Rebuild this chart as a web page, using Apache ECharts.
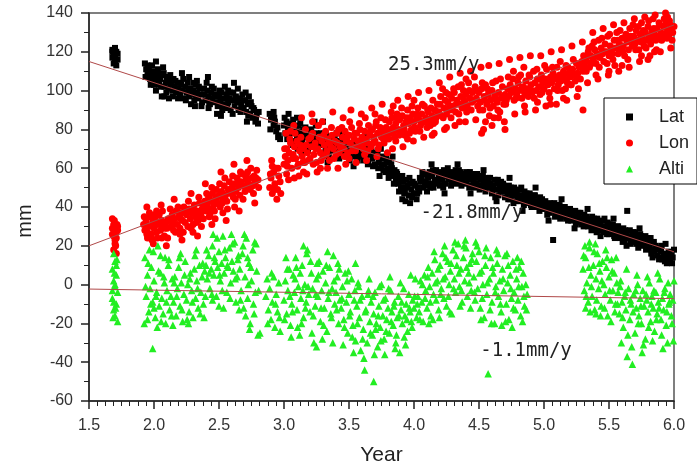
<!DOCTYPE html>
<html>
<head>
<meta charset="utf-8">
<script src="https://cdn.jsdelivr.net/npm/echarts@6/dist/echarts.min.js"></script>
<style>
  html, body { margin: 0; padding: 0; background: #fff; }
  #chart { width: 697px; height: 471px; }
</style>
</head>
<body>
<div id="chart"></div>
<script>
// GPS station displacement time series (mm) against year

const seriesNames = ['Lat', 'Lon', 'Alti'];

// Latitude component [year, mm]
const latData = [
  [1.68,121],[1.69,119],[1.70,122],[1.71,120],[1.68,117],[1.70,118],[1.72,116],[1.69,114],[1.71,113],[1.70,115],[1.72,119],[1.68,120],
  [1.93,114],[1.94,111],[1.95,108],[1.96,112],[1.97,106],[1.98,109],[1.99,104],[2.00,110],[2.01,107],[2.02,105],[2.03,109],[2.04,103],
  [2.05,106],[2.06,108],[2.07,112],[2.08,102],[2.06,97],[2.08,97],[2.09,104],[2.10,107],[2.11,101],[1.95,113],[2.00,103],[2.03,111],
  [2.12,105],[2.13,103],[2.14,100],[2.15,106],[2.16,102],[2.17,99],[2.18,104],[2.19,101],[2.20,98],[2.21,103],[2.22,100],[2.23,96],
  [2.24,102],[2.25,99],[2.26,104],[2.27,97],[2.28,101],[2.29,98],[2.30,100],[2.31,95],[2.32,103],[2.33,99],[2.34,96],[2.35,101],
  [2.36,98],[2.37,94],[2.27,107],[2.33,105],
  [2.39,98],[2.40,95],[2.41,100],[2.42,97],[2.43,93],[2.44,99],[2.45,96],[2.46,101],[2.47,94],[2.48,98],[2.49,92],[2.50,97],
  [2.51,95],[2.52,99],[2.53,93],[2.54,96],[2.55,91],[2.56,98],[2.57,94],[2.58,96],[2.59,90],[2.60,95],[2.61,99],[2.62,92],
  [2.63,97],[2.64,94],[2.65,90],[2.42,91],[2.57,100],
  [2.66,96],[2.67,93],[2.68,98],[2.69,91],[2.70,95],[2.71,89],[2.72,93],[2.73,97],[2.74,88],[2.75,92],[2.76,86],[2.77,90],
  [2.78,84],[2.79,88],[2.80,83],
  [2.89,88],[2.90,85],[2.91,87],[2.92,82],[2.93,84],[2.94,79],[2.95,81],[2.96,77],[2.97,75],[2.92,89],
  [3.00,82],[3.01,78],[3.02,84],[3.03,80],[3.04,76],[3.05,81],[3.06,78],[3.07,85],[3.08,74],[3.09,79],[3.10,77],[3.11,82],
  [3.12,75],[3.13,79],[3.14,73],[3.15,80],[3.16,76],[3.17,78],[3.18,72],[3.19,77],[3.20,74],[3.21,79],[3.22,71],[3.23,76],
  [3.24,73],[3.25,78],[3.26,70],[3.27,75],[3.28,72],[3.10,86],
  [3.29,76],[3.30,73],[3.31,78],[3.32,70],[3.33,74],[3.34,71],[3.35,76],[3.36,69],[3.37,73],[3.38,70],[3.39,75],[3.40,68],
  [3.41,72],[3.42,74],[3.43,69],[3.44,71],[3.45,67],[3.46,72],[3.47,70],[3.48,74],[3.49,66],[3.50,71],[3.51,68],[3.52,73],
  [3.53,69],[3.54,66],[3.55,71],[3.56,68],[3.30,84],[3.45,78],
  [3.57,70],[3.58,66],[3.59,72],[3.60,68],[3.61,64],[3.62,69],[3.63,66],[3.64,71],[3.65,63],[3.66,67],[3.67,70],[3.68,65],
  [3.69,68],[3.70,62],[3.71,66],[3.72,69],[3.73,63],[3.74,66],[3.75,61],[3.76,65],[3.77,62],[3.78,58],[3.79,64],[3.80,60],
  [3.81,63],[3.82,57],
  [3.83,60],[3.84,56],[3.85,59],[3.86,54],[3.87,57],[3.88,52],[3.89,55],[3.90,50],[3.91,56],[3.92,53],[3.93,48],[3.94,54],
  [3.95,51],[3.96,46],[3.97,52],[3.98,49],[3.99,53],[4.00,47],[4.01,51],[4.02,44],[4.03,50],[4.04,48],[4.05,53],[3.91,44],[3.97,42],
  [4.06,55],[4.07,50],[4.08,57],[4.09,53],[4.10,48],[4.11,55],[4.12,58],[4.13,52],[4.14,56],[4.15,50],[4.16,54],[4.17,59],
  [4.18,53],[4.19,56],[4.20,51],[4.21,57],[4.22,54],[4.23,59],[4.24,52],[4.25,56],[4.26,60],[4.27,54],[4.28,57],[4.29,53],
  [4.30,58],[4.31,55],[4.32,59],[4.33,52],[4.34,56],[4.35,54],[4.36,58],[4.37,53],[4.38,57],[4.39,55],[4.40,52],[4.41,56],
  [4.42,54],[4.43,58],[4.44,51],[4.45,55],[4.46,53],[4.47,57],[4.48,52],[4.49,55],[4.50,51],
  [4.51,54],[4.52,50],[4.53,56],[4.54,52],[4.55,48],[4.56,53],[4.57,55],[4.58,50],[4.59,52],[4.60,47],[4.61,51],[4.62,54],
  [4.63,49],[4.64,52],[4.65,46],[4.66,50],[4.67,53],[4.68,48],[4.69,51],[4.70,45],[4.71,49],[4.72,47],[4.73,51],[4.74,44],
  [4.75,48],[4.76,46],[4.77,50],[4.78,43],[4.79,47],[4.80,45],[4.81,49],[4.82,43],[4.83,46],[4.84,44],[4.85,48],[4.86,42],
  [4.87,45],[4.88,43],[4.89,47],[4.90,41],[4.91,44],[4.92,42],[4.93,46],[4.94,40],[4.95,43],[4.96,41],[4.97,45],[4.98,39],
  [4.99,42],[5.00,40],
  [5.01,43],[5.02,39],[5.03,41],[5.04,37],[5.05,40],[5.06,38],[5.07,23],[5.08,42],[5.09,36],[5.10,39],[5.11,37],[5.12,41],
  [5.13,35],[5.14,38],[5.15,36],[5.16,40],[5.17,34],[5.18,37],[5.19,35],[5.20,39],[5.21,33],[5.22,36],[5.23,34],[5.24,38],
  [5.25,32],[5.26,35],[5.27,33],[5.28,37],[5.29,31],[5.30,34],
  [5.31,36],[5.32,32],[5.33,34],[5.34,30],[5.35,33],[5.36,31],[5.37,35],[5.38,29],[5.39,32],[5.40,30],[5.41,34],[5.42,28],
  [5.43,31],[5.44,29],[5.45,33],[5.46,27],[5.47,30],[5.48,28],[5.49,32],[5.50,26],[5.51,29],[5.52,27],[5.53,31],[5.54,25],
  [5.55,28],[5.56,26],[5.57,30],[5.58,24],[5.59,27],[5.60,25],[5.61,29],[5.62,23],[5.63,26],[5.64,38],[5.65,24],[5.66,28],
  [5.67,22],[5.68,25],[5.69,23],[5.70,27],[5.71,21],[5.72,24],[5.73,22],[5.74,26],[5.75,20],[5.76,23],[5.77,21],[5.78,25],
  [5.79,19],[5.80,22],[5.81,20],[5.82,24],[5.83,18],[5.84,21],[5.85,17],[5.86,20],[5.87,15],[5.88,18],[5.89,14],[5.90,17],
  [5.91,13],[5.92,16],[5.93,12],[5.94,15],[5.95,13],[5.96,17],[5.97,12],[5.98,15],[5.99,14],[6.00,18],
  [1.935,107],[1.955,110],[1.975,103],[1.985,113],[2.015,100],[2.035,106],[2.055,102],[2.075,109],[2.095,99],[2.125,108],
  [2.145,97],[2.165,105],[2.185,96],[2.205,104],[2.225,106],[2.245,95],[2.265,100],[2.285,93],[2.305,104],[2.325,97],
  [2.345,102],[2.365,92],[2.385,101],[2.405,104],[2.425,94],[2.445,102],[2.465,97],[2.485,88],[2.505,100],[2.525,90],
  [2.545,102],[2.565,92],[2.585,99],[2.605,88],[2.625,96],[2.645,101],[2.665,89],[2.685,95],[2.705,99],[2.725,87],
  [2.745,94],[2.765,91],[2.785,86],[2.805,89],
  [2.895,80],[2.925,86],[2.955,76],[3.005,86],[3.025,75],[3.045,83],[3.065,72],[3.085,81],[3.105,70],[3.125,83],
  [3.145,76],[3.165,81],[3.185,69],[3.205,80],[3.225,74],[3.245,82],[3.265,73],[3.285,78],[3.305,68],[3.325,77],
  [3.345,66],[3.365,75],[3.385,72],[3.405,78],[3.425,65],[3.445,75],[3.465,68],[3.485,72],[3.505,64],[3.525,70],
  [3.545,74],[3.565,64],[3.585,72],[3.605,67],[3.625,73],[3.645,62],[3.665,70],[3.685,61],[3.705,67],[3.725,60],
  [3.745,70],[3.765,59],[3.785,66],[3.805,55],[3.825,62],[3.845,52],[3.865,58],[3.885,48],[3.905,53],[3.925,47],
  [3.945,50],[3.965,55],[3.985,45],[4.005,52],[4.025,47],[4.045,55],
  [4.065,58],[4.085,51],[4.105,56],[4.125,50],[4.145,59],[4.165,52],[4.185,58],[4.205,54],[4.225,50],[4.245,58],
  [4.265,55],[4.285,51],[4.305,56],[4.325,53],[4.345,59],[4.365,51],[4.385,55],[4.405,58],[4.425,50],[4.445,56],
  [4.465,50],[4.485,57],[4.505,49],[4.525,54],[4.545,50],[4.565,51],[4.585,55],[4.605,49],[4.625,45],[4.645,54],
  [4.665,48],[4.685,52],[4.705,50],[4.725,44],[4.745,50],[4.765,42],[4.785,48],[4.805,46],[4.825,50],[4.845,41],
  [4.865,47],[4.885,45],[4.905,40],[4.925,46],[4.945,43],[4.965,38],[4.985,44],[5.005,42],[5.025,36],[5.045,42],
  [5.065,39],[5.085,35],[5.105,41],[5.125,34],[5.145,40],[5.165,37],[5.185,33],[5.205,38],[5.225,35],[5.245,31],
  [5.265,37],[5.285,34],[5.305,30],[5.325,35],[5.345,32],[5.365,28],[5.385,34],[5.405,27],[5.425,32],[5.445,30],
  [5.465,34],[5.485,26],[5.505,31],[5.525,29],[5.545,24],[5.565,30],[5.585,28],[5.605,22],[5.625,28],[5.645,25],
  [5.665,21],[5.685,27],[5.705,24],[5.725,19],[5.745,25],[5.765,22],[5.785,18],[5.805,24],[5.825,16],[5.845,22],
  [5.865,19],[5.885,13],[5.905,20],[5.925,15],[5.945,11],[5.965,16],[5.985,11],
  [2.015,115],[2.115,96],[2.215,109],[2.315,92],[2.415,107],[2.515,87],[2.615,104],[2.715,84],[3.035,88],[3.135,68],
  [3.235,84],[3.335,63],[3.435,80],[3.535,61],[3.635,76],[3.735,56],[3.835,66],[3.935,43],[4.135,62],[4.235,47],
  [4.335,62],[4.435,47],[4.535,59],[4.635,43],[4.735,55],[4.835,38],[4.935,50],[5.035,33],[5.135,44],[5.235,29],
  [5.335,39],[5.435,25],[5.535,34],[5.635,20],[5.735,29],[5.835,14],[5.935,21]
];

// Longitude component [year, mm]
const lonData = [
  [1.68,34],[1.69,31],[1.70,29],[1.71,27],[1.69,25],[1.70,23],[1.72,28],[1.68,26],[1.71,24],[1.70,21],[1.69,18],[1.71,16],[1.72,30],[1.68,29],
  [1.92,31],[1.93,28],[1.94,33],[1.95,27],[1.96,30],[1.97,35],[1.98,26],[1.99,32],[2.00,29],[2.01,34],[2.02,27],[2.03,31],
  [2.04,36],[2.05,28],[2.06,33],[2.07,30],[2.08,25],[2.09,32],[2.10,29],[2.11,34],[1.95,24],[2.02,38],[2.06,24],
  [2.12,33],[2.13,30],[2.14,36],[2.15,28],[2.16,34],[2.17,38],[2.18,31],[2.19,35],[2.20,29],[2.21,37],[2.22,33],[2.23,40],
  [2.24,32],[2.25,36],[2.26,30],[2.27,39],[2.28,34],[2.29,37],[2.30,31],[2.31,41],[2.32,35],[2.33,38],[2.34,33],[2.35,42],
  [2.36,36],[2.37,39],[2.38,34],[2.39,43],[2.20,26],[2.30,27],
  [2.40,38],[2.41,41],[2.42,45],[2.43,39],[2.44,43],[2.45,47],[2.46,41],[2.47,44],[2.48,49],[2.49,42],[2.50,46],[2.51,40],
  [2.52,48],[2.53,44],[2.54,51],[2.55,46],[2.56,43],[2.57,49],[2.58,53],[2.59,47],[2.60,50],[2.61,45],[2.62,52],[2.63,48],
  [2.64,55],[2.65,50],[2.66,46],[2.67,53],[2.68,57],[2.69,51],[2.70,48],[2.71,54],[2.72,58],[2.73,52],[2.74,49],[2.75,55],
  [2.76,51],[2.77,56],[2.78,53],[2.79,59],[2.80,54],[2.43,36],[2.47,34],[2.53,37],[2.62,40],
  [2.89,50],[2.90,55],[2.91,47],[2.92,58],[2.93,52],[2.94,60],[2.95,49],[2.96,56],[2.97,53],[2.91,61],
  [3.00,62],[3.01,66],[3.02,70],[3.03,64],[3.04,68],[3.05,73],[3.06,60],[3.07,67],[3.08,71],[3.09,65],[3.10,74],[3.11,62],
  [3.12,69],[3.13,76],[3.14,66],[3.15,70],[3.16,63],[3.17,72],[3.18,68],[3.19,75],[3.20,65],[3.21,71],[3.22,78],[3.23,67],
  [3.24,73],[3.25,63],[3.26,70],[3.27,76],[3.28,68],[3.29,74],[3.30,66],[3.31,72],[3.32,79],[3.33,69],[3.34,75],[3.35,64],
  [3.36,71],[3.37,77],[3.38,70],[3.39,74],[3.40,67],[3.41,73],[3.42,80],[3.43,71],[3.02,57],[3.08,55],[3.15,58],[3.22,84],
  [3.05,79],[3.28,60],
  [3.44,72],[3.45,76],[3.46,70],[3.47,79],[3.48,74],[3.49,68],[3.50,77],[3.51,73],[3.52,81],[3.53,71],[3.54,75],[3.55,69],
  [3.56,78],[3.57,74],[3.58,83],[3.59,72],[3.60,76],[3.61,70],[3.62,79],[3.63,75],[3.64,73],[3.65,82],[3.66,77],[3.67,71],
  [3.68,80],[3.69,76],[3.70,74],[3.71,84],[3.72,78],[3.73,72],[3.74,81],[3.75,76],[3.76,79],[3.77,73],[3.78,85],[3.79,77],
  [3.50,65],[3.62,67],[3.70,88],
  [3.80,80],[3.81,84],[3.82,78],[3.83,86],[3.84,81],[3.85,76],[3.86,83],[3.87,88],[3.88,80],[3.89,85],[3.90,79],[3.91,87],
  [3.92,82],[3.93,77],[3.94,84],[3.95,90],[3.96,83],[3.97,86],[3.98,80],[3.99,88],[4.00,84],[4.01,79],[4.02,86],[4.03,91],
  [4.04,85],[4.05,82],[4.06,88],[4.07,84],[4.08,92],[4.09,86],[4.10,81],[4.11,89],[4.12,85],[4.13,91],[4.14,87],[4.15,83],
  [4.16,90],[4.17,86],[4.18,93],[3.86,74],[3.95,75],[4.00,95],[3.84,92],[4.14,77],
  [4.19,89],[4.20,93],[4.21,87],[4.22,101],[4.23,91],[4.24,95],[4.25,88],[4.26,94],[4.27,98],[4.28,90],[4.29,96],[4.30,92],
  [4.31,99],[4.32,89],[4.33,95],[4.34,102],[4.35,93],[4.36,97],[4.37,91],[4.38,100],[4.39,94],[4.40,98],[4.41,92],[4.42,104],
  [4.43,96],[4.44,90],[4.45,99],[4.46,95],[4.47,102],[4.25,81],[4.35,84],[4.40,106],
  [4.48,96],[4.49,92],[4.50,99],[4.51,94],[4.52,101],[4.53,90],[4.54,97],[4.55,103],[4.56,93],[4.57,98],[4.58,87],[4.59,95],
  [4.60,100],[4.61,92],[4.62,97],[4.63,105],[4.64,94],[4.65,99],[4.66,89],[4.67,96],[4.68,102],[4.69,93],[4.70,98],[4.71,95],
  [4.72,101],[4.55,84],[4.60,82],[4.65,86],[4.70,80],[4.52,78],
  [4.73,97],[4.74,103],[4.75,99],[4.76,106],[4.77,95],[4.78,101],[4.79,98],[4.80,104],[4.81,100],[4.82,108],[4.83,96],[4.84,102],
  [4.85,99],[4.86,105],[4.87,101],[4.88,97],[4.89,107],[4.90,103],[4.91,99],[4.92,110],[4.93,104],[4.94,100],[4.95,106],[4.96,102],
  [4.97,98],[4.98,108],[4.99,104],[5.00,101],[5.01,106],[5.02,111],[5.03,103],[5.04,99],[5.05,107],[5.06,104],[5.07,109],[5.08,101],
  [5.09,106],[5.10,112],[5.11,103],[5.12,108],[5.13,105],[5.14,100],[5.15,110],[5.16,106],[5.17,113],[5.18,104],[5.19,109],[5.20,107],
  [5.21,103],[5.22,111],[5.23,108],[5.24,105],[5.25,114],[5.26,109],[5.27,112],[5.28,106],[5.29,115],[5.30,110],[5.31,113],[5.32,117],
  [4.85,92],[4.95,94],[5.05,93],[5.15,96],[5.30,90],
  [5.33,115],[5.34,120],[5.35,112],[5.36,118],[5.37,123],[5.38,116],[5.39,121],[5.40,114],[5.41,119],[5.42,126],[5.43,117],[5.44,122],
  [5.45,119],[5.46,115],[5.47,124],[5.48,120],[5.49,128],[5.50,118],[5.51,123],[5.52,121],[5.53,116],[5.54,126],[5.55,122],[5.56,130],
  [5.57,119],[5.58,124],[5.59,121],[5.60,127],[5.61,123],[5.62,118],[5.63,129],[5.64,125],[5.65,121],[5.66,132],[5.67,126],[5.68,123],
  [5.40,108],[5.50,110],[5.60,113],
  [5.69,128],[5.70,124],[5.71,131],[5.72,126],[5.73,121],[5.74,129],[5.75,135],[5.76,127],[5.77,123],[5.78,130],[5.79,126],[5.80,133],
  [5.81,128],[5.82,124],[5.83,131],[5.84,137],[5.85,129],[5.86,126],[5.87,132],[5.88,128],[5.89,134],[5.90,130],[5.91,127],[5.92,133],
  [5.93,129],[5.94,135],[5.95,131],[5.96,128],[5.97,134],[5.98,132],[5.99,130],[6.00,133],[5.75,118],[5.80,116],[5.85,120],[5.95,138],
  [1.695,33],[1.705,20],[1.715,31],
  [1.925,35],[1.945,26],[1.965,37],[1.985,23],[2.005,36],[2.025,24],[2.045,32],[2.065,38],[2.085,29],[2.105,24],[2.125,39],
  [2.145,31],[2.165,27],[2.185,40],[2.205,34],[2.225,27],[2.245,37],[2.265,43],[2.285,29],[2.305,38],[2.325,32],[2.345,45],
  [2.365,30],[2.385,40],
  [2.405,47],[2.425,35],[2.445,50],[2.465,38],[2.485,45],[2.505,52],[2.525,42],[2.545,55],[2.565,39],[2.585,48],[2.605,56],
  [2.625,44],[2.645,52],[2.665,58],[2.685,44],[2.705,56],[2.725,50],[2.745,60],[2.765,47],[2.785,55],[2.805,50],
  [2.895,57],[2.925,49],[2.955,60],[2.975,47],
  [3.005,70],[3.025,61],[3.045,75],[3.065,65],[3.085,78],[3.105,61],[3.125,72],[3.145,63],[3.165,80],[3.185,64],[3.205,76],
  [3.225,62],[3.245,70],[3.265,82],[3.285,64],[3.305,77],[3.325,67],[3.345,73],[3.365,81],[3.385,65],[3.405,78],[3.425,68],
  [3.445,81],[3.465,66],[3.485,76],[3.505,84],[3.525,69],[3.545,78],[3.565,71],[3.585,80],[3.605,73],[3.625,86],[3.645,69],
  [3.665,79],[3.685,73],[3.705,82],[3.725,70],[3.745,86],[3.765,75],[3.785,81],
  [3.805,75],[3.825,89],[3.845,79],[3.865,86],[3.885,77],[3.905,91],[3.925,80],[3.945,86],[3.965,78],[3.985,92],[4.005,81],
  [4.025,88],[4.045,79],[4.065,93],[4.085,84],[4.105,90],[4.125,82],[4.145,95],[4.165,84],[4.185,89],[4.205,97],[4.225,86],
  [4.245,99],[4.265,91],[4.285,86],[4.305,101],[4.325,93],[4.345,88],[4.365,103],[4.385,95],[4.405,89],[4.425,100],[4.445,94],
  [4.465,107],
  [4.485,100],[4.505,90],[4.525,104],[4.545,95],[4.565,101],[4.585,91],[4.605,104],[4.625,96],[4.645,90],[4.665,106],[4.685,97],
  [4.705,93],[4.725,107],
  [4.745,100],[4.765,110],[4.785,96],[4.805,107],[4.825,101],[4.845,112],[4.865,98],[4.885,108],[4.905,100],[4.925,96],[4.945,111],
  [4.965,106],[4.985,99],[5.005,113],[5.025,104],[5.045,96],[5.065,112],[5.085,107],[5.105,100],[5.125,115],[5.145,108],[5.165,101],
  [5.185,112],[5.205,103],[5.225,116],[5.245,108],[5.265,101],[5.285,113],[5.305,118],
  [5.325,110],[5.345,122],[5.365,114],[5.385,125],[5.405,118],[5.425,112],[5.445,127],[5.465,120],[5.485,114],[5.505,129],[5.525,119],
  [5.545,113],[5.565,126],[5.585,131],[5.605,120],[5.625,127],[5.645,116],[5.665,128],[5.685,134],
  [5.705,121],[5.725,133],[5.745,125],[5.765,131],[5.785,122],[5.805,136],[5.825,127],[5.845,132],[5.865,121],[5.885,135],[5.905,126],
  [5.925,137],[5.945,127],[5.965,136],[5.985,126],
  [1.945,40],[1.995,21],[2.055,41],[2.095,20],[2.155,44],[2.215,23],[2.285,47],[2.335,25],[2.395,52],[2.445,31],[2.515,58],
  [2.555,33],[2.615,62],[2.655,38],[2.715,64],[2.775,42],[2.905,64],[2.945,44],
  [3.015,78],[3.035,54],[3.075,82],[3.115,56],[3.135,86],[3.175,57],[3.215,88],[3.255,58],[3.295,84],[3.335,60],[3.375,89],
  [3.415,60],[3.455,86],[3.475,62],[3.515,90],[3.555,63],[3.595,88],[3.635,64],[3.675,91],[3.715,66],[3.755,93],[3.795,68],
  [3.835,70],[3.875,95],[3.915,71],[3.955,97],[3.995,74],[4.035,99],[4.075,76],[4.115,100],[4.155,78],[4.195,104],[4.235,80],
  [4.275,107],[4.315,82],[4.355,109],[4.395,84],[4.435,110],[4.475,85],[4.515,112],[4.535,80],[4.575,113],[4.615,86],[4.655,114],
  [4.695,84],[4.735,116],
  [4.775,88],[4.815,117],[4.855,89],[4.895,118],[4.935,90],[4.975,118],[5.015,92],[5.055,120],[5.095,93],[5.135,121],[5.175,95],
  [5.215,123],[5.255,97],[5.295,125],[5.335,104],[5.375,130],[5.415,106],[5.455,132],[5.495,108],[5.535,134],[5.575,110],
  [5.615,135],[5.655,112],[5.695,137],[5.735,115],[5.775,138],[5.815,118],[5.855,139],[5.895,120],[5.935,140],[5.975,122]
];

// Altitude component [year, mm]
const altData = [
  [1.69,16],[1.70,12],[1.68,8],[1.71,5],[1.69,2],[1.70,-1],[1.72,-4],[1.68,-7],[1.71,-10],[1.69,-13],[1.70,-16],[1.72,-19],
  [1.68,-3],[1.71,10],[1.70,0],[1.69,-9],
  [1.93,14],[1.94,-6],[1.95,5],[1.96,-14],[1.97,-2],[1.98,9],[1.99,-33],[1.99,-9],[2.00,2],[2.01,-17],[2.02,-4],[2.03,20],
  [2.04,-11],[2.05,6],[2.06,-7],[2.07,-15],[2.08,1],[2.09,-20],[2.10,-3],[2.11,10],[2.12,-13],[2.13,-6],[2.14,3],[1.95,-18],
  [2.05,15],[2.00,-12],
  [2.15,-9],[2.16,4],[2.17,-16],[2.18,-2],[2.19,9],[2.20,-11],[2.21,1],[2.22,-19],[2.23,-5],[2.24,12],[2.25,-8],[2.26,0],
  [2.27,-14],[2.28,6],[2.29,-3],[2.30,-17],[2.31,8],[2.32,-7],[2.33,2],[2.34,-12],[2.35,10],[2.36,-4],[2.37,4],[2.38,-10],[2.39,7],
  [2.40,10],[2.41,3],[2.42,15],[2.43,-2],[2.44,8],[2.45,20],[2.46,5],[2.47,12],[2.48,-6],[2.49,9],[2.50,17],[2.51,2],
  [2.52,11],[2.53,25],[2.54,6],[2.55,14],[2.56,-4],[2.57,9],[2.58,19],[2.59,1],[2.60,12],[2.61,7],[2.62,22],[2.63,-9],
  [2.64,4],[2.65,15],[2.50,-11],[2.45,-8],
  [2.66,8],[2.67,-3],[2.68,16],[2.69,-12],[2.70,4],[2.71,24],[2.72,-7],[2.73,11],[2.74,-20],[2.75,2],[2.76,18],[2.77,-15],
  [2.78,-4],[2.79,7],[2.80,-26],[2.72,14],
  [2.86,-6],[2.87,3],[2.88,-13],[2.89,-2],[2.90,-18],[2.91,-9],[2.92,4],[2.93,-22],[2.94,-5],[2.95,-14],[2.96,1],[2.97,-24],
  [3.00,-8],[3.01,2],[3.02,-15],[3.03,-3],[3.04,8],[3.05,-21],[3.06,-10],[3.07,5],[3.08,-4],[3.09,14],[3.10,-13],[3.11,-1],
  [3.12,-26],[3.13,-7],[3.14,10],[3.15,-17],[3.16,0],[3.17,-9],[3.18,18],[3.19,-5],[3.20,-14],[3.21,6],[3.22,-2],[3.23,-30],
  [3.24,-11],[3.25,3],[3.26,-6],[3.27,12],[3.28,-19],[3.29,-3],[3.30,7],[3.31,-12],[3.32,1],[3.33,-24],[3.34,-7],[3.35,9],
  [3.36,-15],[3.37,-2],[3.38,15],[3.39,-10],[3.40,-4],[3.41,4],[3.42,-20],[3.43,-8],[3.15,20],[3.25,-32],
  [3.44,-12],[3.45,-1],[3.46,-18],[3.47,6],[3.48,-9],[3.49,-25],[3.50,-5],[3.51,-14],[3.52,3],[3.53,-21],[3.54,-8],[3.55,-29],
  [3.56,-11],[3.57,1],[3.58,-17],[3.59,-34],[3.60,-6],[3.61,-23],[3.62,-44],[3.63,-13],[3.64,-30],[3.65,-3],[3.66,-19],[3.69,-50],[3.55,11],
  [3.67,-9],[3.68,-26],[3.69,-15],[3.70,-4],[3.71,-20],[3.72,-32],[3.73,-11],[3.74,-22],[3.75,0],[3.76,-16],[3.77,-28],[3.78,-7],
  [3.79,-18],[3.80,-12],[3.81,-25],[3.82,-3],[3.83,-14],[3.84,-21],[3.85,-9],[3.86,-30],[3.87,-17],[3.88,-6],[3.89,-35],[3.90,-13],
  [3.91,-20],[3.92,-2],[3.93,-16],[3.94,-10],[3.95,-24],[3.96,-5],[3.97,-14],[3.98,-19],[3.99,-8],[4.00,-12],[4.01,3],[4.02,-17],
  [4.03,-6],[4.04,-14],[4.05,2],[4.06,-9],[4.07,-19],[4.08,5],[4.09,-3],[4.10,-12],[4.11,9],[4.12,-1],[4.13,-16],[4.14,6],
  [4.15,-5],[4.16,13],[4.17,-8],[4.18,2],[4.19,-13],[4.20,10],[4.21,-2],[4.22,16],[4.23,-7],[4.24,4],[4.25,-11],[4.26,12],
  [4.27,0],[4.28,7],[4.29,-15],[4.30,18],[4.31,3],[4.32,-4],[4.33,10],[4.34,21],[4.35,-1],[4.36,8],[4.37,-9],[4.38,14],
  [4.39,2],[4.40,19],[4.41,-6],[4.42,6],[4.43,11],[4.44,-3],[4.45,16],
  [4.46,4],[4.47,-8],[4.48,12],[4.49,-2],[4.50,17],[4.51,-12],[4.52,7],[4.53,0],[4.54,-17],[4.55,10],[4.56,-5],[4.57,-46],
  [4.58,3],[4.59,14],[4.60,-9],[4.61,6],[4.62,-20],[4.63,-1],[4.64,11],[4.65,-6],[4.66,2],[4.67,-14],[4.68,8],[4.69,-3],
  [4.70,15],[4.71,-10],[4.72,1],[4.73,-18],[4.74,5],[4.75,-7],[4.76,12],[4.77,-4],[4.78,-13],[4.79,3],[4.80,-8],[4.81,9],
  [4.82,-16],[4.83,-1],[4.84,6],[4.85,-11],[4.86,0],[4.87,-5],
  [5.30,8],[5.31,-3],[5.32,14],[5.33,1],[5.34,-9],[5.35,19],[5.36,5],[5.37,-6],[5.38,10],[5.39,-13],[5.40,3],[5.41,16],
  [5.42,-2],[5.43,7],[5.44,-11],[5.45,12],[5.46,0],[5.47,-5],[5.48,9],[5.49,-16],[5.50,4],[5.51,-8],[5.52,13],[5.53,-3],
  [5.54,6],[5.55,-10],[5.56,1],[5.35,22],[5.32,-12],[5.40,-15],
  [5.57,-4],[5.58,-15],[5.59,2],[5.60,-9],[5.61,-22],[5.62,-6],[5.63,-13],[5.64,-37],[5.65,-2],[5.66,-18],[5.67,-10],[5.68,-41],
  [5.69,-5],[5.70,-25],[5.71,-12],[5.72,0],[5.73,-16],[5.74,-7],[5.75,-20],[5.76,-3],[5.77,-11],[5.78,-28],[5.79,-8],[5.80,-14],
  [5.81,1],[5.82,-19],[5.83,-6],[5.84,-12],[5.85,-24],[5.86,-4],[5.87,-15],[5.88,-9],[5.89,3],[5.90,-18],[5.91,-7],[5.92,-13],
  [5.93,-2],[5.94,-21],[5.95,-30],[5.96,-10],[5.97,-5],[5.98,-16],[5.99,-8],[6.00,2],
  [1.695,6],[1.705,-12],[1.715,13],[1.685,-17],
  [1.935,-1],[1.955,11],[1.975,-10],[1.995,17],[2.015,-6],[2.035,7],[2.055,-19],[2.075,4],[2.095,-9],[2.115,13],[2.135,-16],
  [2.155,1],[2.175,-6],[2.195,14],[2.215,-13],[2.235,5],[2.255,-18],[2.275,3],[2.295,-9],[2.315,15],[2.335,-2],[2.355,-15],
  [2.375,11],[2.395,-6],
  [2.405,18],[2.425,6],[2.445,-5],[2.465,14],[2.485,24],[2.505,5],[2.525,-3],[2.545,18],[2.565,10],[2.585,-7],[2.605,21],
  [2.625,3],[2.645,13],
  [2.665,-8],[2.685,20],[2.705,-16],[2.725,0],[2.745,9],[2.765,-10],[2.785,21],[2.805,-3],
  [2.875,-20],[2.905,6],[2.935,-10],[2.965,-17],
  [3.005,-18],[3.025,8],[3.045,-6],[3.065,-14],[3.085,3],[3.105,-22],[3.125,6],[3.145,-3],[3.165,-12],[3.185,-1],[3.205,12],
  [3.225,-16],[3.245,-5],[3.265,5],[3.285,-12],[3.305,-21],[3.325,10],[3.345,-4],[3.365,-17],[3.385,2],[3.405,-13],[3.425,8],
  [3.445,-7],[3.465,-22],[3.485,2],[3.505,-16],[3.525,-27],[3.545,-3],[3.565,-20],[3.585,-8],[3.605,-28],[3.625,-14],
  [3.645,-5],[3.665,-25],
  [3.685,-6],[3.705,-23],[3.725,-16],[3.745,-29],[3.765,-8],[3.785,-24],[3.805,-2],[3.825,-19],[3.845,-11],[3.865,-26],
  [3.885,-16],[3.905,-9],[3.925,-27],[3.945,-18],[3.965,-12],[3.985,-22],[4.005,-6],
  [4.025,-10],[4.045,-18],[4.065,0],[4.085,-7],[4.105,4],[4.125,-9],[4.145,-18],[4.165,1],[4.185,8],[4.205,-5],[4.225,3],
  [4.245,14],[4.265,-6],[4.285,11],[4.305,-2],[4.325,15],[4.345,6],[4.365,-3],[4.385,20],[4.405,9],[4.425,1],[4.445,13],
  [4.465,-4],[4.485,20],[4.505,6],[4.525,-7],[4.545,15],[4.565,1],[4.585,-13],[4.605,9],[4.625,-4],[4.645,16],[4.665,-10],
  [4.685,3],[4.705,-19],[4.725,10],[4.745,-2],[4.765,-12],[4.785,8],[4.805,-1],[4.825,12],[4.845,-6],[4.865,-13],
  [5.305,15],[5.325,-6],[5.345,9],[5.365,-1],[5.385,17],[5.405,-8],[5.425,11],[5.445,2],[5.465,-12],[5.485,14],[5.505,-3],
  [5.525,7],[5.545,-14],
  [5.565,-10],[5.585,-1],[5.605,-17],[5.625,-4],[5.645,-26],[5.665,-8],[5.685,-14],[5.705,-3],[5.725,-20],[5.745,-11],
  [5.765,-31],[5.785,-5],[5.805,-22],[5.825,-10],[5.845,-3],[5.865,-18],[5.885,-12],[5.905,-26],[5.925,-4],[5.945,-14],
  [5.965,-9],[5.985,-20],
  [3.015,14],[3.055,-27],[3.095,9],[3.135,-20],[3.175,16],[3.215,-25],[3.255,11],[3.295,-28],[3.335,17],[3.375,-30],
  [3.415,11],[3.455,-31],[3.495,7],[3.535,-35],[3.575,-1],[3.615,-38],[3.655,3],[3.695,-36],[3.735,-1],[3.775,-36],
  [3.815,4],[3.855,-33],[3.895,1],[3.935,-31],[3.975,5],
  [4.115,-20],[4.155,17],[4.195,-17],[4.235,20],[4.275,-14],[4.315,22],[4.355,-11],[4.395,23],[4.435,-12],[4.475,22],
  [4.515,-18],[4.555,19],[4.595,-20],[4.635,18],[4.675,-21],[4.715,16],[4.755,-22],[4.795,14],[4.835,-19],
  [5.315,20],[5.355,-14],[5.395,21],[5.435,-16],[5.475,18],[5.515,-19],[5.555,14],[5.595,-30],[5.635,8],[5.675,-32],
  [5.715,5],[5.755,-35],[5.795,4],[5.835,-29],[5.875,6],[5.915,-33],[5.955,1],[5.995,-29],
  [1.925,-20],[1.965,18],[2.025,-22],[2.085,14],[2.145,-21],[2.205,16],[2.265,-20],[2.325,18],[2.385,-17],[2.455,26],
  [2.535,-12],[2.595,26],[2.655,-13],[2.695,26],[2.735,-23],[2.775,22],[2.815,-25]
];

// Linear trends: value at the first year and slope in mm/y
const trendStart = [115, 20, -2.3];
const trendSlope = [-21.8, 25.3, -1.1];
const trendRange = [1.5, 6.0];

// Rate annotations [text, year, mm]
const rateLabels = [
  ['25.3mm/y', 3.80, 113],
  ['-21.8mm/y', 4.05, 37],
  ['-1.1mm/y', 4.51, -34.5]
];

const xTicks = { min: 1.5, max: 6.0, step: 0.5 };
const yTicks = { min: -60, max: 140, step: 20 };

const colors = ['#000000', '#ff0000', '#22ee22'];
const symbols = ['rect', 'circle', 'triangle'];
const sizes = [6, 7, 7.5];
const pointSets = [latData, lonData, altData];

const chart = echarts.init(document.getElementById('chart'), null, { renderer: 'canvas' });

const axisFont = { fontFamily: 'Liberation Sans, Arial, sans-serif', fontSize: 16, color: '#333' };

const scatterSeries = seriesNames.map((name, i) => ({
  name,
  type: 'scatter',
  data: pointSets[i],
  symbol: symbols[i],
  symbolSize: sizes[i],
  itemStyle: { color: colors[i], opacity: 1 },
  silent: true,
  large: false,
  z: 2 + i
}));

const trendSeries = seriesNames.map((name, i) => ({
  name: name + ' trend',
  type: 'line',
  data: trendRange.map(x => [x, trendStart[i] + trendSlope[i] * (x - trendRange[0])]),
  symbol: 'none',
  lineStyle: { color: '#b04848', width: 1 },
  silent: true,
  z: 10
}));

chart.setOption({
  animation: false,
  backgroundColor: '#fff',
  grid: {
    left: 89, right: 23, top: 13, bottom: 66,
    show: true, borderColor: '#555', borderWidth: 1.5, backgroundColor: 'transparent'
  },
  legend: {
    data: seriesNames.map((n, i) => ({ name: n, icon: symbols[i] })),
    orient: 'vertical',
    left: 604, top: 98,
    padding: [10, 8, 6, 22],
    itemWidth: 7, itemHeight: 7,
    itemGap: 8,
    backgroundColor: '#fff',
    borderColor: '#000', borderWidth: 1,
    selectedMode: false,
    textStyle: {
      fontFamily: 'Liberation Sans, Arial, sans-serif', fontSize: 18, color: '#222',
      lineHeight: 18, padding: [0, 0, 0, 21]
    }
  },
  xAxis: {
    type: 'value',
    min: xTicks.min, max: xTicks.max, interval: xTicks.step,
    name: 'Year', nameLocation: 'middle', nameGap: 44,
    nameTextStyle: { fontFamily: 'Liberation Sans, Arial, sans-serif', fontSize: 21, color: '#222' },
    axisLine: { show: true, onZero: false, lineStyle: { color: '#222', width: 1.5 } },
    axisTick: { show: true, inside: false, length: 8, lineStyle: { color: '#222', width: 1.5 } },
    minorTick: { show: true, splitNumber: 8, length: 5, lineStyle: { color: '#222', width: 1 } },
    axisLabel: Object.assign({ margin: 17, formatter: v => v.toFixed(1) }, axisFont),
    splitLine: { show: false }
  },
  yAxis: {
    type: 'value',
    min: yTicks.min, max: yTicks.max, interval: yTicks.step,
    name: 'mm', nameLocation: 'middle', nameGap: 50, nameRotate: 90,
    nameTextStyle: {
      fontFamily: 'Liberation Sans, Arial, sans-serif', fontSize: 20, color: '#222',
      padding: [0, 28, 0, 0]
    },
    axisLine: { show: true, onZero: false, lineStyle: { color: '#222', width: 1.5 } },
    axisTick: { show: true, inside: false, length: 8, lineStyle: { color: '#222', width: 1.5 } },
    minorTick: { show: true, splitNumber: 2, length: 5, lineStyle: { color: '#222', width: 1 } },
    axisLabel: Object.assign({ margin: 16 }, axisFont),
    splitLine: { show: false }
  },
  series: scatterSeries.concat(trendSeries)
});

// Place rate annotations in data coordinates
chart.setOption({
  graphic: rateLabels.map(([text, x, y]) => {
    const p = chart.convertToPixel({ gridIndex: 0 }, [x, y]);
    return {
      type: 'text',
      x: p[0], y: p[1],
      z: 20,
      style: {
        text,
        fontFamily: 'DejaVu Sans Mono, Liberation Mono, monospace',
        fontSize: 19,
        fill: '#222',
        verticalAlign: 'middle',
        align: 'left'
      }
    };
  })
});
</script>
</body>
</html>
